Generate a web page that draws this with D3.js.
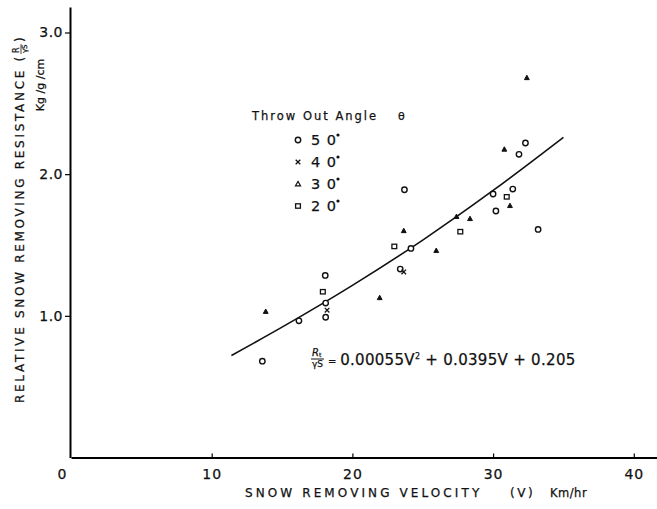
<!DOCTYPE html>
<html>
<head>
<meta charset="utf-8">
<script src="https://cdn.jsdelivr.net/npm/d3@7"></script>
<style>
  body { margin: 0; background: #fff; }
  text { font-family: "DejaVu Sans", sans-serif; fill: #111; stroke: #111; stroke-width: 0.25px; }
</style>
</head>
<body>
<div id="chart"></div>
<script>
// velocity (km/hr), relative resistance, per throw out angle
var angle50 = [[13.6, 0.68], [16.2, 0.965], [18.07, 1.285], [18.1, 0.99], [18.1, 1.09],
               [23.4, 1.33], [24.16, 1.476], [23.7, 1.89], [30.0, 1.86], [30.2, 1.74],
               [31.4, 1.895], [31.84, 2.14], [32.3, 2.22], [33.2, 1.61]];
var angle40 = [[18.2, 1.04], [23.65, 1.31]];
var angle30 = [[13.84, 1.03], [21.94, 1.127], [23.65, 1.60], [25.96, 1.46], [27.4, 1.70],
               [28.36, 1.685], [30.8, 2.175], [31.2, 1.777], [32.4, 2.68]];
var angle20 = [[17.9, 1.17], [22.98, 1.49], [27.67, 1.594], [30.97, 1.84]];

// fitted curve
var curveV = [11.4, 15, 20, 25, 30, 35];
var curveR = [0.72, 0.92, 1.215, 1.535, 1.885, 2.26];

var xTicks = [0, 10, 20, 30, 40];
var yTicks = [1.0, 2.0, 3.0];
var legendLabels = ["5 0", "4 0", "3 0", "2 0"];
var legendShapes = ["circle", "cross", "triangle", "square"];

var width = 657, height = 509;
var margin = {top: 7, right: 0, bottom: 51.5, left: 71};

var svg = d3.select("#chart").append("svg")
    .attr("width", width)
    .attr("height", height);

var x = d3.scaleLinear().domain([0, 41.65]).range([margin.left, width - margin.right]);
var y = d3.scaleLinear().domain([0, 3.18]).range([height - margin.bottom, margin.top]);

// axes
var xAxis = svg.append("g")
    .attr("transform", "translate(0," + y(0) + ")")
    .call(d3.axisBottom(x).tickValues(xTicks).tickSize(-4).tickSizeOuter(0).tickPadding(10)
      .tickFormat(d3.format("d")));
xAxis.select(".domain").attr("stroke-width", 2);
xAxis.selectAll("text").style("font-size", "14px").style("letter-spacing", "1px").attr("dy", "0.85em")
    .attr("dx", function(d) { return d === 0 ? -9 : 0; });
xAxis.selectAll(".tick line").attr("stroke-width", 1.2)
    .attr("display", function(d) { return d === 0 ? "none" : null; });

var yAxis = svg.append("g")
    .attr("transform", "translate(" + (x(0) - 1) + ",0)")
    .call(d3.axisLeft(y).tickValues(yTicks).tickSize(5).tickSizeOuter(0).tickPadding(2)
      .tickFormat(d3.format(".1f")));
yAxis.select(".domain").attr("stroke-width", 2);
yAxis.selectAll("text").style("font-size", "14px").style("letter-spacing", "0.5px");
yAxis.selectAll(".tick line").attr("stroke-width", 1.2);

// fitted curve
var line = d3.line()
    .x(function(d, i) { return x(curveV[i]); })
    .y(function(d, i) { return y(curveR[i]); })
    .curve(d3.curveMonotoneX);
svg.append("path")
    .datum(curveV)
    .attr("d", line)
    .attr("fill", "none")
    .attr("stroke", "#111")
    .attr("stroke-width", 1.6);

// markers
function drawMarker(g, shape, cx, cy) {
  if (shape === "circle") {
    g.append("circle").attr("cx", cx).attr("cy", cy).attr("r", 2.7)
      .attr("fill", "#fff").attr("stroke", "#111").attr("stroke-width", 1.4);
  } else if (shape === "cross") {
    g.append("path").attr("d", "M" + (cx - 2.3) + "," + (cy - 2.3) + "L" + (cx + 2.3) + "," + (cy + 2.3) +
        "M" + (cx - 2.3) + "," + (cy + 2.3) + "L" + (cx + 2.3) + "," + (cy - 2.3))
      .attr("stroke", "#111").attr("stroke-width", 1.3);
  } else if (shape === "triangle") {
    g.append("path").attr("d", "M" + cx + "," + (cy - 2.6) + "L" + (cx + 2.4) + "," + (cy + 1.8) +
        "L" + (cx - 2.4) + "," + (cy + 1.8) + "Z")
      .attr("fill", "#111").attr("stroke", "#111").attr("stroke-width", 1);
  } else {
    g.append("rect").attr("x", cx - 2.4).attr("y", cy - 2.2).attr("width", 4.8).attr("height", 4.4)
      .attr("fill", "#fff").attr("stroke", "#111").attr("stroke-width", 1.3);
  }
}

var pts = svg.append("g");
[angle50, angle40, angle30, angle20].forEach(function(series, k) {
  series.forEach(function(d) { drawMarker(pts, legendShapes[k], x(d[0]), y(d[1])); });
});

// legend
svg.append("text").attr("x", 252).attr("y", 120)
    .style("font-size", "11.5px").style("letter-spacing", "2px")
    .text("Throw Out Angle");
svg.append("text").attr("x", 398).attr("y", 120)
    .style("font-size", "11px").text("θ");

var leg = svg.append("g");
legendLabels.forEach(function(lab, i) {
  var ly = 140 + i * 22;
  if (legendShapes[i] === "triangle") {
    leg.append("path").attr("d", "M298," + (ly - 2.6) + "L300.6," + (ly + 1.9) + "L295.4," + (ly + 1.9) + "Z")
      .attr("fill", "none").attr("stroke", "#111").attr("stroke-width", 1.1);
  } else {
    drawMarker(leg, legendShapes[i], 298, ly);
  }
  leg.append("text").attr("x", 311).attr("y", ly + 5)
    .style("font-size", "14.5px").style("letter-spacing", "1px").text(lab);
  leg.append("circle").attr("cx", 338).attr("cy", ly - 5).attr("r", 1.6).attr("fill", "#111");
});

// formula
var fx = 312, fy = 359;
svg.append("text").attr("x", fx).attr("y", fy - 3).style("font-size", "10px")
    .style("font-style", "italic").text("R");
svg.append("text").attr("x", fx + 7).attr("y", fy - 2).style("font-size", "6px").text("t");
svg.append("line").attr("x1", fx - 1).attr("x2", fx + 12).attr("y1", fy).attr("y2", fy)
    .attr("stroke", "#111").attr("stroke-width", 1);
svg.append("text").attr("x", fx).attr("y", fy + 8).style("font-size", "9px").text("γS");
var eq = svg.append("text").attr("x", fx + 16).attr("y", fy + 6).style("font-size", "15px")
    .style("letter-spacing", "0.3px");
eq.append("tspan").style("font-size", "10px").text("= ");
eq.append("tspan").text("0.00055V");
eq.append("tspan").attr("dy", -6).style("font-size", "8px").text("2");
eq.append("tspan").attr("dy", 6).text(" + 0.0395V + 0.205");

// axis titles
svg.append("text").attr("x", 245).attr("y", 497)
    .style("font-size", "12px").style("letter-spacing", "3.1px")
    .text("SNOW REMOVING VELOCITY");
svg.append("text").attr("x", 510).attr("y", 497)
    .style("font-size", "12px").style("letter-spacing", "2.6px").text("(V)");
svg.append("text").attr("x", 550).attr("y", 497)
    .style("font-size", "11.5px").style("letter-spacing", "0.5px").text("Km/hr");

var yt = svg.append("g").attr("transform", "translate(24,403) rotate(-90)");
var ytxt = yt.append("text").attr("x", 0).attr("y", 0)
    .style("font-size", "12px").style("letter-spacing", "2.7px")
    .text("RELATIVE SNOW REMOVING RESISTANCE (");
var tl = ytxt.node().getComputedTextLength();
yt.append("text").attr("x", tl + 1).attr("y", -5).style("font-size", "8px").text("R");
yt.append("line").attr("x1", tl).attr("x2", tl + 10).attr("y1", -3).attr("y2", -3)
    .attr("stroke", "#111").attr("stroke-width", 0.8);
yt.append("text").attr("x", tl + 1).attr("y", 3).style("font-size", "7px").text("γS");
yt.append("text").attr("x", tl + 12).attr("y", 0).style("font-size", "12px").text(")");

svg.append("text")
    .attr("transform", "translate(44,85) rotate(-90)")
    .attr("text-anchor", "middle")
    .style("font-size", "11px")
    .text("Kg /g /cm");
</script>
</body>
</html>
